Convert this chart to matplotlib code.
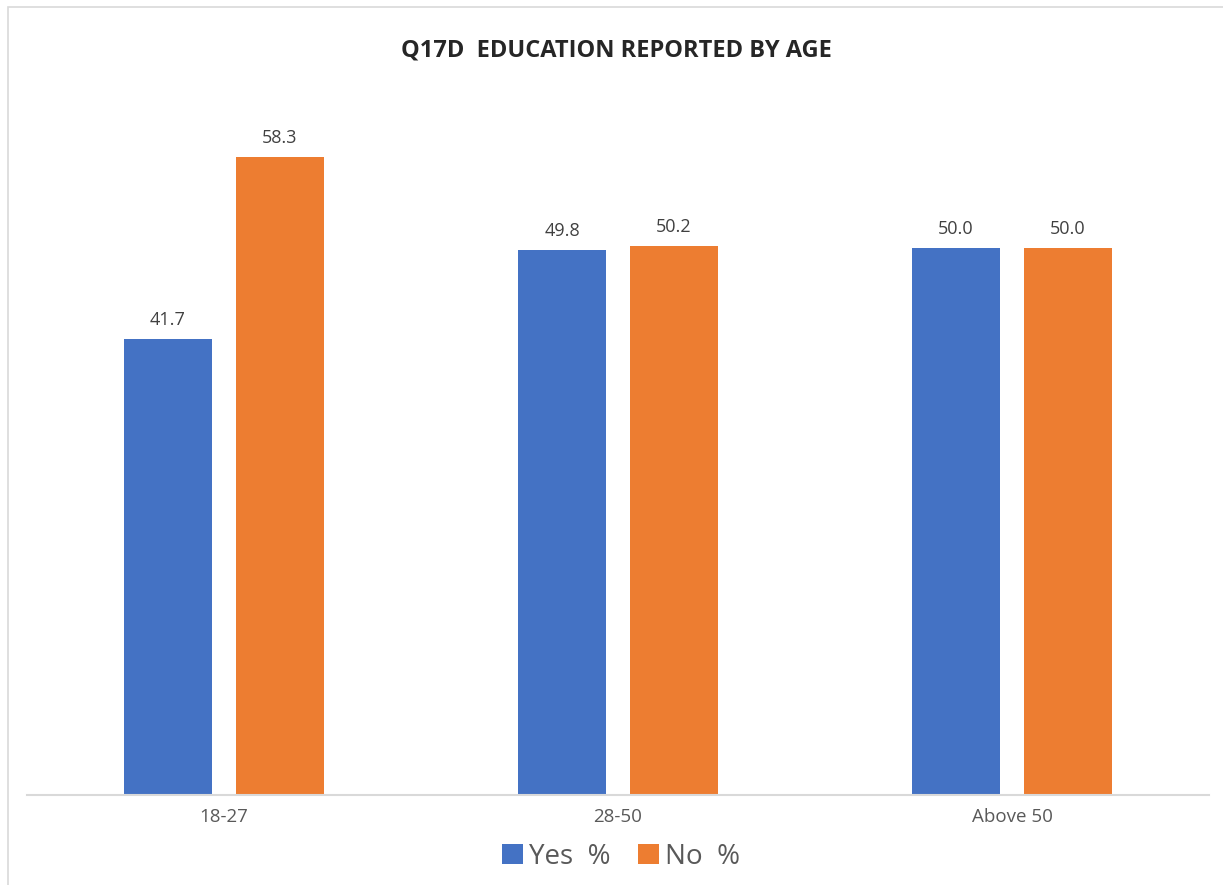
import matplotlib.pyplot as plt
import numpy as np
from matplotlib.patches import Rectangle

plt.rcParams.update({'font.family': ['Open Sans', 'DejaVu Sans']})

categories = ['18-27', '28-50', 'Above 50']
yes_pct = [41.7, 49.8, 50.0]
no_pct = [58.3, 50.2, 50.0]
series_names = ['Yes  %', 'No  %']
color_set = ['#4472C4', '#ED7D31']

W, H = 1223, 885
fig = plt.figure(figsize=(W / 100, H / 100), dpi=100)

# chart border (top and left visible, rest cropped)
fig.patches.append(Rectangle((8 / W, -0.1), 1.2, (H - 7) / H + 0.1, transform=fig.transFigure,
                             fill=False, edgecolor='#D9D9D9', linewidth=1.2))

ax = fig.add_axes([27 / W, 90 / H, (1209 - 27) / W, (795 - 100) / H])

x = np.arange(len(categories))
bw = 0.223
off = 0.142
b1 = ax.bar(x - off, yes_pct, bw, color=color_set[0], label=series_names[0])
b2 = ax.bar(x + off, no_pct, bw, color=color_set[1], label=series_names[1])

for bars in (b1, b2):
    ax.bar_label(bars, fmt='%.1f', padding=7, fontsize=13, color='#404040')

ax.set_xlim(-0.5, 2.5)
ax.set_ylim(0, 63.5)
ax.set_yticks([])
ax.set_xticks(x)
ax.set_xticklabels(categories, fontsize=13.5, color='#595959')
ax.tick_params(axis='x', length=0, pad=9)
for s in ['top', 'right', 'left']:
    ax.spines[s].set_visible(False)
ax.spines['bottom'].set_color('#D9D9D9')
ax.spines['bottom'].set_linewidth(1.5)

fig.text(616 / W, 1 - 50 / H, 'Q17D  EDUCATION REPORTED BY AGE', ha='center', va='center',
         fontsize=17, fontweight='bold', color='#262626')

fig.legend(loc='center', bbox_to_anchor=(621 / W, 1 - 857 / H), ncol=2, frameon=False,
           fontsize=20, handlelength=0.75, handleheight=0.75, handletextpad=0.2,
           columnspacing=1.0, labelcolor='#595959')

plt.savefig('out.png', dpi=100)
